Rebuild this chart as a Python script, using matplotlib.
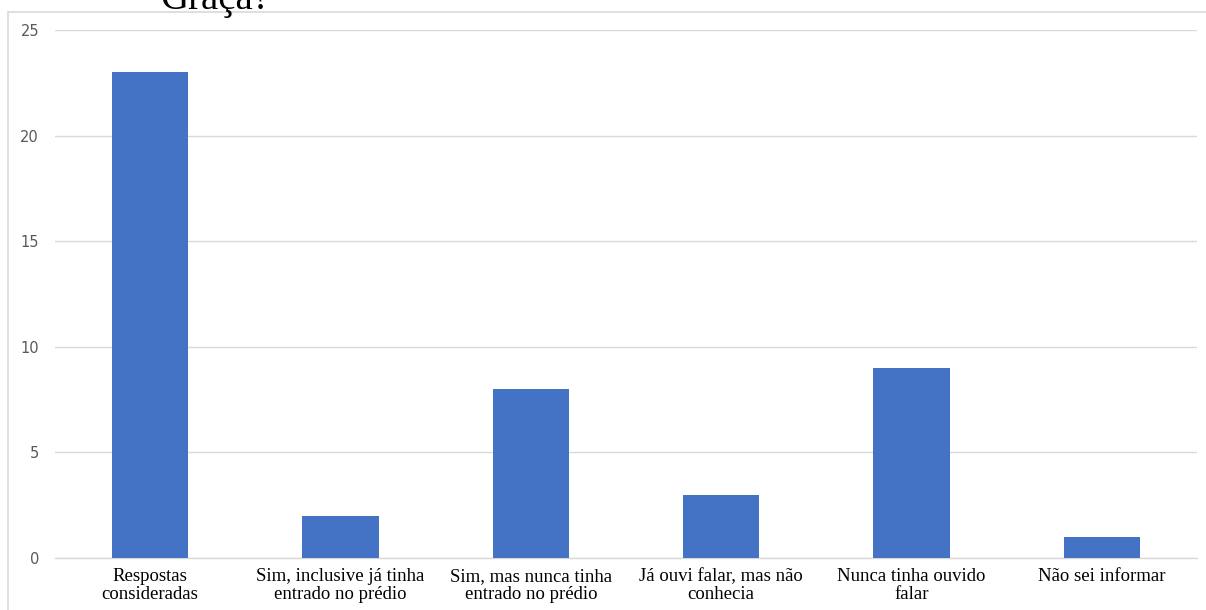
import matplotlib
matplotlib.use("Agg")
import matplotlib.pyplot as plt
from matplotlib.patches import Rectangle

categories = [
    "Respostas\nconsideradas",
    "Sim, inclusive já tinha\nentrado no prédio",
    "Sim, mas nunca tinha\nentrado no prédio",
    "Já ouvi falar, mas não\nconhecia",
    "Nunca tinha ouvido\nfalar",
    "Não sei informar",
]
values = [23, 2, 8, 3, 9, 1]
y_ticks = [0, 5, 10, 15, 20, 25]
caption = "Graça?"

W, H = 1206, 610
fig = plt.figure(figsize=(W / 100, H / 100), dpi=100)
fig.patch.set_facecolor("white")

# chart frame (left and top edges visible)
fig.patches.append(Rectangle((8 / W, -0.1), 1.2, 1 - 12 / H + 0.1,
                             transform=fig.transFigure, fill=False,
                             edgecolor="#d9d9d9", linewidth=1.2, zorder=0))

# caption fragment above the chart
fig.text(160 / W, 1 - 9 / H, caption, ha="left", va="baseline",
         fontsize=28, family="Liberation Serif", color="black")

ax = fig.add_axes([55 / W, (H - 558) / H, 1142 / W, 528 / H])
x = range(len(categories))
ax.bar(x, values, width=0.4, color="#4472C4", zorder=3)

ax.set_xlim(-0.5, len(categories) - 0.5)
ax.set_ylim(0, 25)
ax.set_yticks(y_ticks)
ax.set_yticklabels([str(t) for t in y_ticks], family="DejaVu Sans",
                   fontsize=10.5, color="#595959")
ax.set_xticks(list(x))
ax.set_xticklabels(categories, family="Liberation Serif", fontsize=13.5,
                   color="black", linespacing=1.12)
ax.tick_params(axis="y", length=0, pad=11.5)
ax.tick_params(axis="x", length=0, pad=7)

ax.grid(axis="y", color="#d9d9d9", linewidth=1, zorder=0)
ax.set_axisbelow(True)
for side in ("top", "right", "left"):
    ax.spines[side].set_visible(False)
ax.spines["bottom"].set_color("#d9d9d9")
ax.spines["bottom"].set_linewidth(1)
ax.set_facecolor("none")

fig.savefig("out.png", dpi=100)
